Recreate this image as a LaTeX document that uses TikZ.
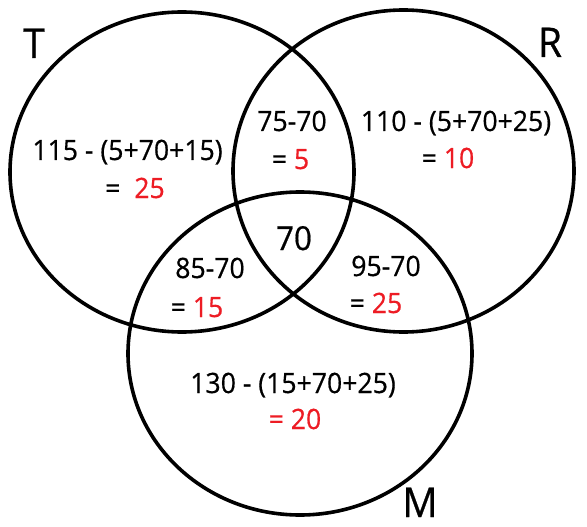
\documentclass[tikz,border=0pt]{standalone}
\usepackage{fontspec}
\setmainfont{Open Sans}[FakeStretch=0.95,FakeBold=0.6]
\definecolor{vred}{RGB}{237,28,36}
\begin{document}
\begin{tikzpicture}[x=1pt,y=-1pt,
  ring/.style={draw=black,line width=3.6pt},
  lbl/.style={anchor=base,inner sep=0pt,font=\fontsize{28}{30}\selectfont},
  setname/.style={anchor=base,inner sep=0pt,font=\fontsize{41}{44}\selectfont},
  big/.style={anchor=base,inner sep=0pt,font=\fontsize{33}{36}\selectfont}]
\useasboundingbox (0,0) rectangle (587,527);
\draw[ring] (182,172) ellipse [x radius=172, y radius=160];
\draw[ring] (403.5,171) ellipse [x radius=170.5, y radius=161];
\draw[ring] (300,353.5) ellipse [x radius=172, y radius=161.5];
\node[setname] (nT) at (34,58) {T};
\node[setname] (nR) at (550,57) {R};
\node[setname] (nM) at (420,517) {M};
\node[lbl] (t1) at (127.5,160) {115 - (5+70+15)};
\node[lbl] (t2) at (135,198) {= \ \textcolor{vred}{25}};
\node[lbl] (tr1) at (292,131) {75-70};
\node[lbl] (tr2) at (290.5,169) {= \textcolor{vred}{5}};
\node[lbl] (r1) at (456,131) {110 - (5+70+25)};
\node[lbl] (r2) at (448,168) {= \textcolor{vred}{10}};
\node[big] (c) at (294,250) {70};
\node[lbl] (tm1) at (210,278) {85-70};
\node[lbl] (tm2) at (197,317) {= \textcolor{vred}{15}};
\node[lbl] (rm1) at (386,276) {95-70};
\node[lbl] (rm2) at (376,313) {= \textcolor{vred}{25}};
\node[lbl] (m1) at (293,393) {130 - (15+70+25)};
\node[lbl,text=vred] (m2) at (295,429) {= 20};
\end{tikzpicture}
\end{document}
